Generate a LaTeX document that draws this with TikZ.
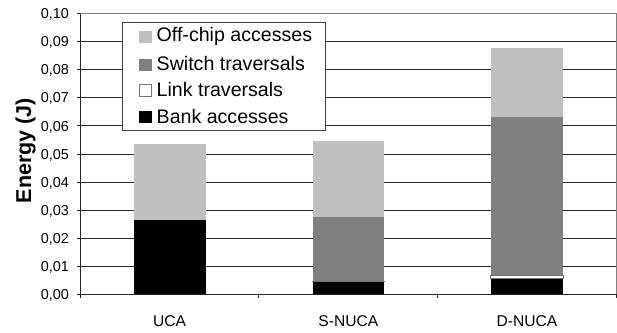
\documentclass[tikz,border=0pt]{standalone}
\usepackage{fontspec}
\setmainfont{Liberation Sans}
\begin{document}
\begin{tikzpicture}[x=1pt,y=-1pt,
  grid/.style={draw=black!85,line width=0.8pt},
  frame/.style={draw=black!50,line width=0.9pt},
  tickmark/.style={draw=black!85,line width=0.8pt},
  ticklab/.style={anchor=base east,font=\fontsize{14.4}{16}\selectfont,inner sep=0pt},
  catlab/.style={anchor=base,font=\fontsize{15.6}{17}\selectfont,inner sep=0pt},
  legtext/.style={anchor=base west,font=\fontsize{19.6}{21}\selectfont,inner sep=0pt},
  legbox/.style={fill=white,draw=black!75,line width=0.9pt},
  offchip/.style={fill=black!25},
  switchseg/.style={fill=black!50},
  linkseg/.style={fill=white,draw=black!55,line width=0.6pt},
  bank/.style={fill=black}]
\useasboundingbox (0,0) rectangle (617,332);
\fill[white] (0,0) rectangle (617,332);

% gridlines
\foreach \i in {1,...,9}
  \draw[grid] (80,{294.3-\i*28.08}) -- (616,{294.3-\i*28.08});
% plot frame
\draw[frame] (80,13.5) -- (616,13.5) -- (616,294.3);
% axes
\draw[grid] (80,13.5) -- (80,294.3) -- (616,294.3);
% y ticks and labels
\foreach \i/\t in {0/{0,00},1/{0,01},2/{0,02},3/{0,03},4/{0,04},5/{0,05},6/{0,06},7/{0,07},8/{0,08},9/{0,09},10/{0,10}} {
  \draw[tickmark] (76.5,{294.3-\i*28.08}) -- (80,{294.3-\i*28.08});
  \node[ticklab] (yl\i) at (69,{294.3-\i*28.08+5.2}) {\t};
}
% x ticks
\foreach \x in {80,258.7,437.3,616}
  \draw[tickmark] (\x,294.3) -- (\x,298);

% bars: UCA
\fill[bank] (134,294.3) rectangle (206,220);
\fill[offchip] (134,220) rectangle (206,144);
% S-NUCA
\fill[bank] (313,294.3) rectangle (384,281.5);
\fill[switchseg] (313,280.8) rectangle (384,216.7);
\fill[offchip] (313,216.7) rectangle (384,141);
\draw[linkseg] (312.5,281.5) rectangle (384.5,280.8);
% D-NUCA
\fill[bank] (491,294.3) rectangle (563,278.3);
\fill[switchseg] (491,275.7) rectangle (563,116.7);
\fill[offchip] (491,116.7) rectangle (563,48);
\draw[linkseg] (490.5,278.3) rectangle (563.5,275.7);

% category labels
\node[catlab] (cUCA) at (169.5,326.7) {UCA};
\node[catlab] (cS) at (348.3,326.7) {S-NUCA};
\node[catlab] (cD) at (527,326.7) {D-NUCA};

% axis title
\node[rotate=90,font=\fontsize{21.5}{23}\selectfont\bfseries,inner sep=0pt] (ytitle) at (25.5,150.5) {Energy (J)};

% legend
\draw[legbox] (122.7,22.3) rectangle (325,130.7);
\fill[offchip] (139,31) rectangle (151.7,43.3);
\node[legtext] (l1) at (156.5,41.7) {Off-chip accesses};
\fill[switchseg] (139,58.5) rectangle (151.7,71);
\node[legtext] (l2) at (156.5,70) {Switch traversals};
\draw[linkseg] (139,84.3) rectangle (151,96);
\node[legtext] (l3) at (156.5,96) {Link traversals};
\fill[bank] (139,111) rectangle (151.7,123.3);
\node[legtext] (l4) at (156.5,123.3) {Bank accesses};
\end{tikzpicture}
\end{document}
